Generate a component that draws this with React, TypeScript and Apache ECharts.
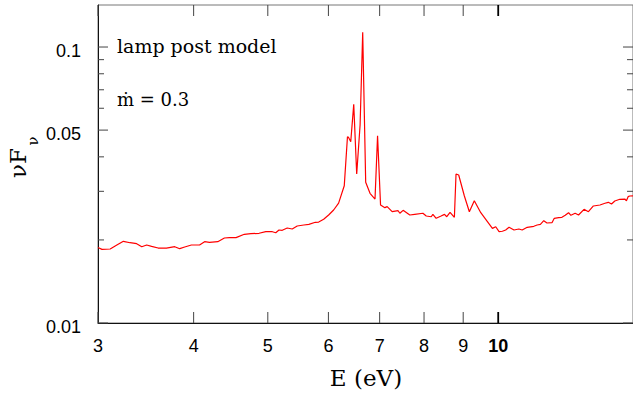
import React, { useEffect, useRef } from "react";
import * as echarts from "echarts";

// Photon energy (eV)
const energy = [
  3.0, 3.036, 3.112, 3.175, 3.238, 3.304, 3.37, 3.422, 3.473, 3.525, 3.595, 3.686,
  3.779, 3.836, 3.894, 3.973, 4.072, 4.134, 4.196, 4.301, 4.388, 4.454, 4.544, 4.659,
  4.752, 4.871, 4.97, 5.069, 5.121, 5.171, 5.222, 5.301, 5.381, 5.462, 5.573, 5.657,
  5.769, 5.827, 5.915, 6.004, 6.095, 6.187, 6.293, 6.354, 6.373, 6.417, 6.475, 6.533,
  6.6, 6.652, 6.712, 6.8, 6.903, 6.956, 7.019, 7.111, 7.16, 7.268, 7.4, 7.438, 7.512,
  7.664, 7.778, 7.973, 8.053, 8.174, 8.216, 8.297, 8.421, 8.508, 8.566, 8.651, 8.765,
  8.808, 8.879, 9.032, 9.168, 9.306, 9.489, 9.632, 9.827, 9.925, 10.026, 10.126,
  10.227, 10.331, 10.487, 10.642, 10.748, 10.911, 11.131, 11.242, 11.353, 11.469,
  11.58, 11.755, 11.837, 11.993, 12.112, 12.233, 12.357, 12.443, 12.604, 12.733,
  12.946, 13.117, 13.315, 13.581, 13.786, 13.926, 14.061, 14.201, 14.416, 14.633,
  14.707, 14.782, 14.854, 15.0,
];

// nu F_nu
const flux = [
  0.01878, 0.01849, 0.01854, 0.01917, 0.01977, 0.01954, 0.01938, 0.0189, 0.01917,
  0.01896, 0.01869, 0.01869, 0.0189, 0.01859, 0.01885, 0.01917, 0.01917, 0.01971,
  0.01961, 0.01971, 0.02032, 0.0204, 0.02038, 0.02096, 0.02107, 0.02114, 0.02142,
  0.02142, 0.02124, 0.02173, 0.02167, 0.02209, 0.02191, 0.02246, 0.02265, 0.02278,
  0.02317, 0.02322, 0.02375, 0.02462, 0.02567, 0.0272, 0.03144, 0.04732, 0.04708,
  0.04538, 0.06199, 0.03467, 0.05218, 0.113, 0.03235, 0.02951, 0.02813, 0.04772,
  0.02677, 0.02618, 0.0264, 0.02531, 0.02552, 0.02498, 0.0256, 0.02462, 0.02476,
  0.02498, 0.02442, 0.02427, 0.02476, 0.02395, 0.02442, 0.02476, 0.02427, 0.02518,
  0.02415, 0.03467, 0.03438, 0.02885, 0.02531, 0.02774, 0.0251, 0.02375, 0.02203,
  0.02233, 0.02142, 0.0215, 0.02173, 0.02222, 0.02173, 0.02191, 0.02173, 0.02222,
  0.02241, 0.02265, 0.02278, 0.02348, 0.02303, 0.02309, 0.02395, 0.02408, 0.02415,
  0.02456, 0.0251, 0.02456, 0.02498, 0.02462, 0.02582, 0.02531, 0.02655, 0.02677,
  0.02715, 0.02737, 0.02699, 0.02768, 0.02807, 0.02813, 0.02774, 0.02869, 0.02885,
  0.0289,
];

const xTicks = [3, 4, 5, 6, 7, 8, 9, 10];
const yMajorTicks = [0.01, 0.05, 0.1];
const yMajorLabels = ["0.01", "0.05", "0.1"];
const yMinorTicks = [0.02, 0.03, 0.04, 0.06, 0.07, 0.08, 0.09];

const X_MIN = 3;
const X_MAX = 15;
const Y_MIN = 0.01;
const Y_MAX = 0.142;

const SANS = '"Liberation Sans", Arial, Helvetica, sans-serif';
const SERIF = '"DejaVu Serif", "Liberation Serif", serif';
const TICK_COLOR = "#444";

export default function App() {
  const ref = useRef<HTMLDivElement>(null);

  useEffect(() => {
    if (!ref.current) return;
    const chart = echarts.init(ref.current, undefined, { renderer: "svg" });

    const yTickData = [
      ...yMajorTicks.map((v, i) => [X_MIN, v, 1, i]),
      ...yMinorTicks.map((v) => [X_MIN, v, 0, -1]),
    ];

    chart.setOption({
      animation: false,
      backgroundColor: "#fff",
      grid: {
        left: 98,
        top: 5,
        right: -4,
        bottom: 70,
        show: true,
        borderColor: "#777",
        borderWidth: 1,
      },
      xAxis: {
        type: "log",
        logBase: 10,
        min: X_MIN,
        max: X_MAX,
        axisLine: { show: true, lineStyle: { color: "#111", width: 1 } },
        axisTick: { show: false },
        axisLabel: { show: false },
        splitLine: { show: false },
        minorTick: { show: false },
      },
      yAxis: {
        type: "log",
        logBase: 10,
        min: Y_MIN,
        max: Y_MAX,
        axisLine: { show: true, lineStyle: { color: "#111", width: 1 } },
        axisTick: { show: false },
        axisLabel: { show: false },
        splitLine: { show: false },
        minorTick: { show: false },
      },
      series: [
        {
          type: "line",
          data: energy.map((e, i) => [e, flux[i]]),
          showSymbol: false,
          symbol: "none",
          lineStyle: { color: "#ff0000", width: 1.2 },
          silent: true,
          z: 3,
        },
        {
          type: "custom",
          clip: false,
          silent: true,
          data: xTicks.map((v) => [v, Y_MIN]),
          renderItem: (_params: any, api: any) => {
            const x = api.value(0);
            const b = api.coord([x, Y_MIN]);
            const t = api.coord([x, Y_MAX]);
            const bold = x === 10;
            const len = 11;
            return {
              type: "group",
              children: [
                {
                  type: "line",
                  shape: { x1: b[0], y1: b[1], x2: b[0], y2: b[1] - len },
                  style: { stroke: bold ? "#000" : TICK_COLOR, lineWidth: bold ? 1.8 : 1 },
                },
                {
                  type: "line",
                  shape: { x1: t[0], y1: t[1], x2: t[0], y2: t[1] + len },
                  style: { stroke: bold ? "#000" : TICK_COLOR, lineWidth: bold ? 1.8 : 1 },
                },
                {
                  type: "text",
                  x: b[0],
                  y: b[1] + 23,
                  style: {
                    text: String(x),
                    font: `${bold ? "bold " : ""}18px ${SANS}`,
                    fill: "#000",
                    align: "center",
                    verticalAlign: "middle",
                  },
                },
              ],
            };
          },
          z: 4,
        },
        {
          type: "custom",
          clip: false,
          silent: true,
          data: yTickData,
          renderItem: (_params: any, api: any) => {
            const y = api.value(1);
            const major = api.value(2) === 1;
            const idx = api.value(3);
            const l = api.coord([X_MIN, y]);
            const r = api.coord([X_MAX, y]);
            const len = major ? 10 : 6;
            const children: any[] = [
              {
                type: "line",
                shape: { x1: l[0], y1: l[1], x2: l[0] + len, y2: l[1] },
                style: { stroke: TICK_COLOR, lineWidth: 1 },
              },
              {
                type: "line",
                shape: { x1: r[0], y1: r[1], x2: r[0] - len, y2: r[1] },
                style: { stroke: TICK_COLOR, lineWidth: 1 },
              },
            ];
            if (major && idx >= 0) {
              children.push({
                type: "text",
                x: l[0] - 17,
                y: l[1] + 3.5,
                style: {
                  text: yMajorLabels[idx],
                  font: `18px ${SANS}`,
                  fill: "#000",
                  align: "right",
                  verticalAlign: "middle",
                },
              });
            }
            return { type: "group", children };
          },
          z: 4,
        },
      ],
      graphic: [
        {
          type: "text",
          left: 117,
          top: 36,
          style: { text: "lamp post model", font: `19px ${SERIF}`, fill: "#000" },
        },
        {
          type: "text",
          left: 117,
          top: 90,
          style: { text: "ṁ = 0.3", font: `18px ${SERIF}`, fill: "#000" },
        },
        {
          type: "text",
          x: 366,
          y: 378,
          style: {
            text: "E (eV)",
            font: `23px ${SERIF}`,
            fill: "#000",
            align: "center",
            verticalAlign: "middle",
          },
        },
        {
          type: "text",
          x: 18,
          y: 163,
          rotation: Math.PI / 2,
          style: {
            text: "νF",
            font: `23px ${SERIF}`,
            fill: "#000",
            align: "center",
            verticalAlign: "middle",
          },
        },
        {
          type: "text",
          x: 33,
          y: 141,
          rotation: Math.PI / 2,
          style: {
            text: "ν",
            font: `15px ${SERIF}`,
            fill: "#000",
            align: "center",
            verticalAlign: "middle",
          },
        },
      ],
    });

    return () => chart.dispose();
  }, []);

  return (
    <div
      ref={ref}
      style={{ position: "fixed", left: 0, top: 0, width: 633, height: 393 }}
    />
  );
}
